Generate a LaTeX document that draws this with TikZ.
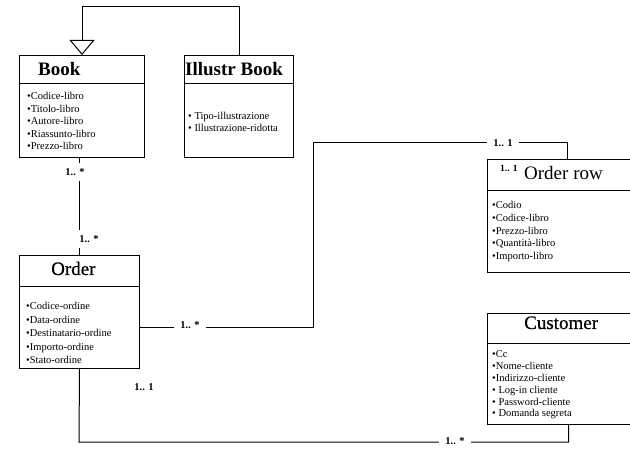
\documentclass[tikz,border=0pt]{standalone}
\usepackage{fontspec}
\setmainfont{Liberation Serif}
\newfontfamily\heavyserif[FakeBold=0.7]{Liberation Serif}
\usetikzlibrary{arrows.meta}
\begin{document}
\begin{tikzpicture}[x=1pt,y=-1pt,
  box/.style={draw, line width=1pt, inner sep=0pt, anchor=north west},
  title/.style={font=\fontsize{19}{19}\selectfont, inner sep=0pt, anchor=base west},
  attr/.style={font=\fontsize{10.5}{12}\selectfont, inner sep=0pt, anchor=base west},
  mult/.style={font=\fontsize{10.5}{12}\selectfont\bfseries, fill=white, inner xsep=6pt, inner ysep=5pt},
  link/.style={draw, line width=1pt},
  gen/.style={link, -{Triangle[open, length=15pt, width=25pt, line width=1pt]}}]
\useasboundingbox (0,0) rectangle (630,449);

% class boxes: a title part and an attribute part each
\node[box, minimum width=125, minimum height=28] (book) at (19,55) {};
\node[box, minimum width=125, minimum height=74] (bookbody) at (19,83) {};
\node[box, minimum width=109, minimum height=28] (illustr) at (184,55) {};
\node[box, minimum width=109, minimum height=74] (illustrbody) at (184,83) {};
\node[box, minimum width=120, minimum height=31] (order) at (19,255) {};
\node[box, minimum width=120, minimum height=82] (orderbody) at (19,286) {};
\node[box, minimum width=160, minimum height=31] (row) at (487,159) {};
\node[box, minimum width=160, minimum height=82] (rowbody) at (487,190) {};
\node[box, minimum width=162, minimum height=30] (cust) at (487,313) {};
\node[box, minimum width=162, minimum height=81] (custbody) at (487,343) {};

% class names
\node[title, font=\fontsize{19}{19}\selectfont\bfseries] (bookname) at (38,76) {Book};
\node[title, font=\fontsize{19}{19}\selectfont\bfseries] (illustrname) at (185,76) {Illustr Book};
\node[title, font=\fontsize{19}{19}\heavyserif] (ordername) at (51,275) {Order};
\node[title] (rowname) at (524,180) {Order row};
\node[title, font=\fontsize{19}{19}\heavyserif] (custname) at (524,329) {Customer};
\node[font=\fontsize{9.5}{10}\selectfont\bfseries, inner sep=0pt, anchor=base west] (rowmult) at (500,172) {1.. 1};

% attributes
\foreach \t [count=\i] in {•Codice-libro,•Titolo-libro,•Autore-libro,•Riassunto-libro,•Prezzo-libro}
  \node[attr] (bookattr\i) at (27,{100+12.4*(\i-1)}) {\t};
\foreach \t [count=\i] in {• Tipo-illustrazione,• Illustrazione-ridotta}
  \node[attr] (illustrattr\i) at (188,{120+11.7*(\i-1)}) {\t};
\foreach \t [count=\i] in {•Codice-ordine,•Data-ordine,•Destinatario-ordine,•Importo-ordine,•Stato-ordine}
  \node[attr] (orderattr\i) at (26,{310+13.4*(\i-1)}) {\t};
\foreach \t [count=\i] in {•Codio,•Codice-libro,•Prezzo-libro,•Quantità-libro,•Importo-libro}
  \node[attr] (rowattr\i) at (492,{209+12.6*(\i-1)}) {\t};
\foreach \t [count=\i] in {•Cc,•Nome-cliente,•Indirizzo-cliente,• Log-in cliente,• Password-cliente,• Domanda segreta}
  \node[attr] (custattr\i) at (492,{358+11.8*(\i-1)}) {\t};

% generalisation
\draw[gen] (illustr.north) -- ++(0,-48) -| (book.north);

% associations
\coordinate (rowbend) at (313,143);
\coordinate (custbend) at (79,442);
\draw[link] (bookbody.south -| order.north) -- (order.north);
\draw[link] (orderbody.east) -| (rowbend) -| (row.north);
\draw[link] (orderbody.south) -- (custbend) -| (custbody.south);

% multiplicities
\node[mult] (m1) at (75,172) {1.. *};
\node[mult] (m2) at (89,239) {1.. *};
\node[mult] (m3) at (190,325) {1.. *};
\node[mult] (m4) at (503,143) {1.. 1};
\node[mult] (m5) at (455,441) {1.. *};
\node[mult, fill=none] (m6) at (144,387) {1.. 1};
\end{tikzpicture}
\end{document}
